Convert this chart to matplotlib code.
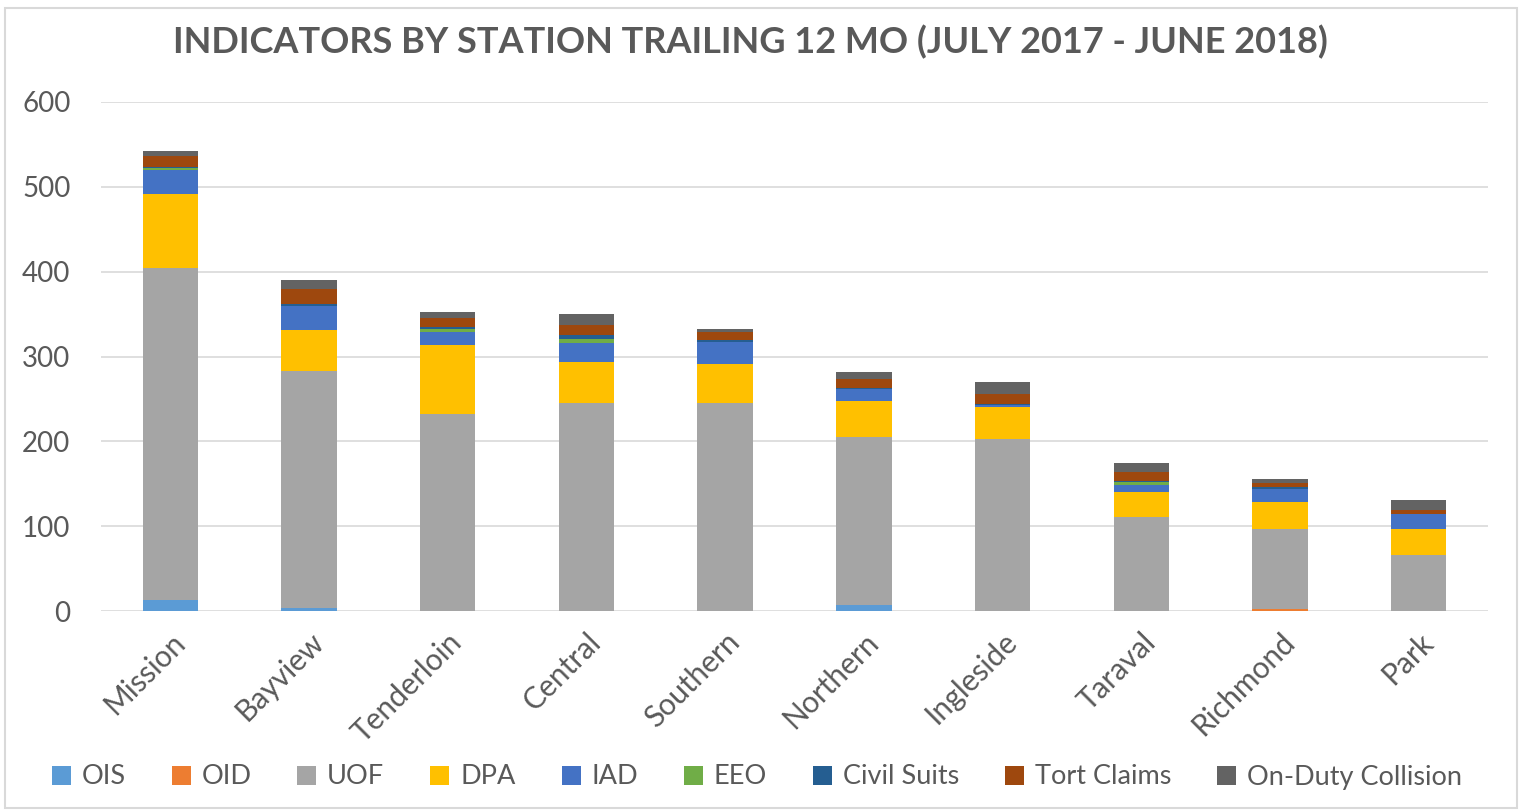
import matplotlib.pyplot as plt
from matplotlib.patches import Rectangle
import numpy as np

plt.rcParams['font.family'] = ['Lato', 'DejaVu Sans']

stations = ["Mission", "Bayview", "Tenderloin", "Central", "Southern",
            "Northern", "Ingleside", "Taraval", "Richmond", "Park"]

# values per series, one per station
ois = [13, 4, 0, 0, 0, 7, 0, 0, 0, 0]
oid = [0, 0, 0, 0, 0, 0, 0, 0, 2, 0]
uof = [391, 279, 232, 245, 245, 198, 203, 111, 95, 66]
dpa = [88, 48, 81, 49, 46, 42, 37, 29, 31, 31]
iad = [28, 28, 16, 22, 26, 15, 3, 9, 16, 17]
eeo = [2, 1, 3, 5, 0, 0, 0, 3, 0, 0]
civil = [1, 2, 3, 4, 3, 1, 1, 1, 2, 0]
tort = [13, 18, 10, 12, 9, 10, 12, 11, 5, 5]
collision = [6, 10, 8, 13, 4, 9, 14, 10, 5, 12]

series_names = ["OIS", "OID", "UOF", "DPA", "IAD", "EEO", "Civil Suits",
                "Tort Claims", "On-Duty Collision"]
series_vals = [ois, oid, uof, dpa, iad, eeo, civil, tort, collision]
colors = ["#5B9BD5", "#ED7D31", "#A5A5A5", "#FFC000", "#4472C4",
          "#70AD47", "#255E91", "#9E480E", "#636363"]

fig = plt.figure(figsize=(15.23, 8.11), dpi=100)
ax = fig.add_axes([101 / 1523, 1 - 611 / 811, (1488 - 101) / 1523, (611 - 102) / 811])

x = np.arange(len(stations))
bottom = np.zeros(len(stations))
for name, vals, c in zip(series_names, series_vals, colors):
    ax.bar(x, vals, 0.4, bottom=bottom, color=c, label=name, zorder=3)
    bottom += np.array(vals)

ax.set_xlim(-0.5, len(stations) - 0.5)
ax.set_ylim(0, 600)
ax.set_yticks(range(0, 601, 100))
ax.yaxis.grid(True, color="#D9D9D9", linewidth=1.2, zorder=0)
for s in ax.spines.values():
    s.set_visible(False)
ax.tick_params(axis='both', length=0, colors="#595959", labelsize=20)
ax.tick_params(axis='y', pad=22)
ax.tick_params(axis='x', pad=12, labelsize=21.5)
ax.set_xticks(x)
ax.set_xticklabels(stations, rotation=45, ha='right', rotation_mode='anchor')

fig.text(0.493, 1 - 42 / 811, "INDICATORS BY STATION TRAILING 12 MO (JULY 2017 - JUNE 2018)",
         ha='center', va='center', fontsize=26, fontweight='bold', color="#595959")

leg = fig.legend(loc='center', bbox_to_anchor=(0.497, 1 - 777 / 811), ncol=9,
                 frameon=False, fontsize=19.5, handlelength=0.7, handleheight=0.7,
                 handletextpad=0.4, columnspacing=1.7, labelcolor="#595959")

fig.patches.append(Rectangle((5 / 1523, 3 / 811), 1512 / 1523, 800 / 811,
                             transform=fig.transFigure, fill=False,
                             edgecolor="#D9D9D9", linewidth=1.5))

fig.savefig("out.png", dpi=100)
